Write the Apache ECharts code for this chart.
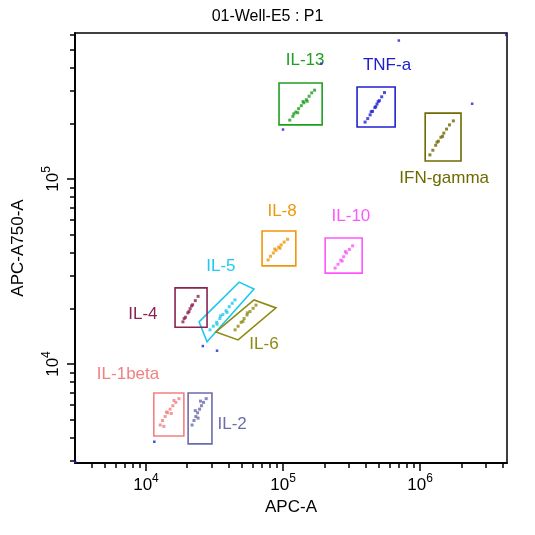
<!DOCTYPE html>
<html><head><meta charset="utf-8">
<script src="https://cdn.jsdelivr.net/npm/echarts@6/dist/echarts.min.js"></script>
<style>html,body{margin:0;padding:0;background:#fff}#c{width:535px;height:535px}</style>
</head><body><div id="c"></div>
<script>
const xMin = 3034, xMax = 4.31e6, yMin = 2917, yMax = 615000;
const majorTicks = [1e4, 1e5, 1e6];
const gateNames = ['IL-13','TNF-a','IFN-gamma','IL-8','IL-10','IL-5','IL-4','IL-6','IL-1beta','IL-2'];
const gateColors = ['#1f9e1f','#2020d0','#6e6a00','#f0960a','#ff55ff','#1ec8f0','#8b2252','#8e8a14','#f28080','#6c6cac'];
// gate polygons [x,y] corners
const gatePolys = [
  [[93500,330000],[193000,330000],[193000,196000],[93500,196000]],
  [[347000,314000],[658000,314000],[658000,191000],[347000,191000]],
  [[1.09e6,227000],[1.99e6,227000],[1.99e6,125000],[1.09e6,125000]],
  [[70300,52300],[124000,52300],[124000,33900],[70300,33900]],
  [[203000,48000],[378000,48000],[378000,31000],[203000,31000]],
  [[24400,16900],[47800,27700],[61400,25400],[27900,13200]],
  [[16300,25800],[27900,25800],[27900,15800],[16300,15800]],
  [[32400,14900],[61400,22200],[88900,20100],[47000,13500]],
  [[11400,6970],[18900,6970],[18900,4080],[11400,4080]],
  [[20300,6970],[30300,6970],[30300,3700],[20300,3700]]
];
const labelPos = [[145000,440000],[574000,413000],[1.5e6,101000],[98400,67100],[313000,63100],[35200,33900],[9500,18600],[72600,12800],[7400,8830],[42500,4740]];
// events per gate
const events = [
  [[112e3,208e3],[118e3,218e3],[124e3,230e3],[130e3,240e3],[136e3,249e3],[142e3,258e3],[148e3,268e3],[155e3,280e3],[162e3,292e3],[170e3,302e3],[128e3,228e3],[140e3,262e3],[150e3,263e3],[120e3,225e3]],
  [[397e3,203e3],[415e3,212e3],[432e3,222e3],[450e3,232e3],[468e3,243e3],[485e3,254e3],[505e3,265e3],[525e3,278e3],[550e3,293e3],[440e3,231e3],[475e3,246e3],[495e3,262e3]],
  [[1.18e6,135e3],[1.24e6,143e3],[1.30e6,152e3],[1.36e6,160e3],[1.42e6,168e3],[1.49e6,177e3],[1.56e6,186e3],[1.64e6,196e3],[1.75e6,206e3],[1.33e6,158e3],[1.46e6,170e3]],
  [[77.8e3,36.5e3],[81e3,38.2e3],[85e3,39.8e3],[89e3,41.2e3],[93e3,42.8e3],[97e3,44e3],[102e3,45.6e3],[108e3,47.2e3],[87e3,41.8e3],[95e3,42.2e3]],
  [[240e3,33e3],[252e3,34.6e3],[264e3,36.4e3],[277e3,38e3],[290e3,39.8e3],[305e3,41.6e3],[322e3,43.5e3],[270e3,36e3],[285e3,40.5e3]],
  [[29.3e3,15.3e3],[31e3,16e3],[32.8e3,16.8e3],[34.6e3,17.6e3],[36.4e3,18.5e3],[38.4e3,19.4e3],[40.5e3,20.4e3],[42.6e3,21.3e3],[44.6e3,22.2e3],[35e3,18.2e3],[39e3,19.0e3],[33e3,16.4e3]],
  [[18.6e3,16.9e3],[19.4e3,17.9e3],[20.2e3,18.9e3],[21.0e3,19.9e3],[21.9e3,20.9e3],[22.9e3,22.0e3],[24.0e3,23.2e3],[20.6e3,19.2e3],[21.5e3,20.6e3],[19.0e3,17.6e3]],
  [[44.7e3,15.3e3],[47e3,16e3],[49.5e3,16.8e3],[52e3,17.6e3],[54.6e3,18.4e3],[57.4e3,19.2e3],[60.5e3,20e3],[63.5e3,20.8e3],[51e3,17.0e3],[55e3,18.9e3]],
  [[12.7e3,4.68e3],[13.2e3,4.95e3],[13.8e3,5.2e3],[14.4e3,5.45e3],[15.0e3,5.7e3],[15.7e3,5.95e3],[16.5e3,6.2e3],[17.4e3,6.5e3],[14.1e3,5.5e3],[15.3e3,5.4e3],[13.5e3,4.6e3],[16.0e3,6.35e3]],
  [[21.7e3,4.68e3],[22.4e3,4.95e3],[23.1e3,5.2e3],[23.8e3,5.45e3],[24.6e3,5.7e3],[25.4e3,5.95e3],[26.3e3,6.2e3],[27.5e3,6.5e3],[24e3,5.1e3],[22.9e3,5.6e3],[25.0e3,6.3e3]]
];
const strayEvents = [[190e3,420e3],[700e3,560e3],[2.4e6,255e3],[100e3,185e3],[11.5e3,3.8e3],[26e3,12.5e3],[33e3,11.8e3],[3050,2950],[4.25e6,600e3]];

const minorTicks = [];
for (let e = 3; e <= 6; e++) for (let m = 2; m <= 9; m++) minorTicks.push(m * Math.pow(10, e));
const minorX = minorTicks.filter(v => v > xMin && v < xMax);
const minorY = minorTicks.filter(v => v > yMin && v < yMax);

function fmt(v){ const e = Math.round(Math.log10(v)); return '{b|10}{s|' + e + '}'; }
const rich = { b:{fontSize:17,color:'#000',fontFamily:'Liberation Sans'}, s:{fontSize:12,color:'#000',padding:[0,0,12,0],fontFamily:'Liberation Sans'} };

function axisBase(extraMin, extraMax){
  return { type:'log', logBase:10, min:extraMin, max:extraMax, splitLine:{show:false}, axisLine:{show:true, onZero:false, lineStyle:{color:'#000',width:1.5}} };
}
const xAxes = [
  Object.assign(axisBase(xMin,xMax), {gridIndex:0, position:'bottom', name:'APC-A', nameLocation:'middle', nameGap:35,
    nameTextStyle:{fontSize:17,color:'#000',fontFamily:'Liberation Sans'},
    axisTick:{show:true, inside:false, length:8, lineStyle:{color:'#000',width:1.5}, customValues:majorTicks},
    axisLabel:{show:true, customValues:majorTicks, formatter:fmt, rich:rich, margin:10}}),
  Object.assign(axisBase(xMin,xMax), {gridIndex:0, position:'bottom',
    axisTick:{show:true, length:5, lineStyle:{color:'#000',width:1.5}, customValues:minorX},
    axisLabel:{show:false}})
];
const yAxes = [
  Object.assign(axisBase(yMin,yMax), {gridIndex:0, position:'left', name:'APC-A750-A', nameLocation:'middle', nameGap:48,
    nameTextStyle:{fontSize:17,color:'#000',fontFamily:'Liberation Sans'},
    axisTick:{show:true, length:8, lineStyle:{color:'#000',width:1.5}, customValues:majorTicks},
    axisLabel:{show:true, customValues:majorTicks, formatter:fmt, rich:rich, rotate:90, margin:10}}),
  Object.assign(axisBase(yMin,yMax), {gridIndex:0, position:'left',
    axisTick:{show:true, length:5, lineStyle:{color:'#000',width:1.5}, customValues:minorY},
    axisLabel:{show:false}})
];

const series = [];
events.forEach((pts, i) => series.push({type:'scatter', data:pts, symbol:'rect', symbolSize:3, itemStyle:{color:gateColors[i]}, silent:true, animation:false}));
series.push({type:'scatter', data:strayEvents, symbol:'rect', symbolSize:2.5, itemStyle:{color:'#2020d0'}, animation:false});
series.push({
  type:'custom', animation:false, clip:false,
  data: gateNames.map((n,i)=>[i]),
  renderItem: function(params, api){
    const i = api.value(0);
    const pts = gatePolys[i].map(p => api.coord(p));
    const lp = api.coord(labelPos[i]);
    return {type:'group', children:[
      {type:'polygon', shape:{points:pts}, style:{fill:null, stroke:gateColors[i], lineWidth:1.6}},
      {type:'text', x:lp[0], y:lp[1], style:{text:gateNames[i], fill:gateColors[i], fontSize:17, fontFamily:'Liberation Sans', align:'center', verticalAlign:'middle'}}
    ]};
  }
});

const chart = echarts.init(document.getElementById('c'));
chart.setOption({
  animation:false,
  title:{text:'01-Well-E5 : P1', left:'center', top:4, textStyle:{fontSize:16,fontWeight:'normal',color:'#000',fontFamily:'Liberation Sans'}},
  grid:{left:75, right:28, top:33, bottom:72, show:true, borderColor:'#000', borderWidth:1.5},
  xAxis:xAxes, yAxis:yAxes, series:series
});
</script></body></html>
